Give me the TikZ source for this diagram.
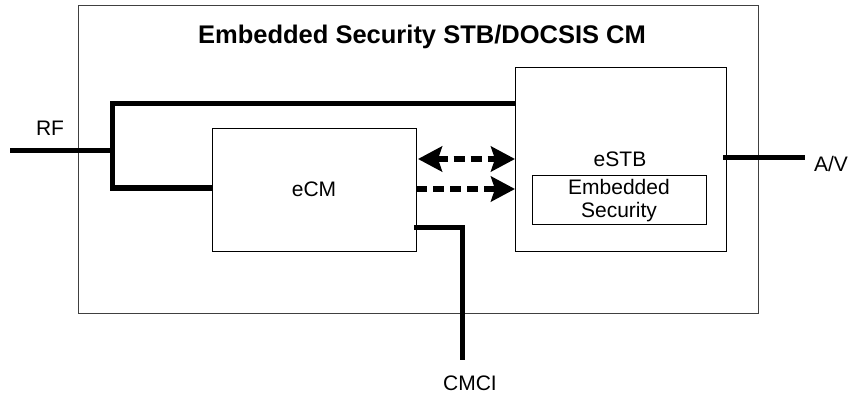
\documentclass[tikz,border=0pt]{standalone}
\usepackage{fontspec}
\setmainfont{Liberation Sans}
\usetikzlibrary{arrows.meta}
\begin{document}
\begin{tikzpicture}[x=1pt,y=-1pt,
  box/.style={draw=black, line width=0.9pt, inner sep=0pt, outer sep=0pt},
  lbl/.style={font=\fontsize{21}{25}\selectfont, inner sep=0pt, align=center},
  thickline/.style={line width=5pt, line join=miter, line cap=butt},
  tip/.style={},
  dashline/.style={line width=6pt, dash pattern=on 11pt off 6pt, line cap=butt,
    -{Stealth[length=24pt,width=25pt,inset=4pt]}},
  dashboth/.style={line width=6pt, dash pattern=on 11pt off 6pt, line cap=butt,
    {Stealth[length=24pt,width=25pt,inset=4pt]}-{Stealth[length=24pt,width=25pt,inset=4pt]}}
]
\useasboundingbox (0,0) rectangle (849,393);
\fill[white] (0,0) rectangle (849,393);
% outer box
\node[box, draw=black!75, minimum width=680pt, minimum height=308pt] (outer) at (418,159) {};
\node[font=\fontsize{25.5}{30}\selectfont\bfseries, inner sep=0pt] (title) at (422,37) {Embedded Security STB/DOCSIS CM};
% eCM
\node[box, minimum width=204pt, minimum height=123pt] (ecm) at (314,189.5) {};
\node[lbl] (ecmlbl) at (314,189) {eCM};
% eSTB
\node[box, minimum width=211pt, minimum height=184pt] (estb) at (620.5,159) {};
\node[lbl] (estblbl) at (620,159) {eSTB};
\node[box, minimum width=174pt, minimum height=49pt] (es) at (619,199.5) {};
\node[lbl] (eslbl1) at (619,187) {Embedded};
\node[lbl] (eslbl2) at (619,212) {Security};
% RF
\coordinate (rfin) at (10,151);
\coordinate (br) at (112,151);
\coordinate (bt) at (112,104);
\coordinate (bb) at (112,188);
\node[lbl] (rf) at (50,128) {RF};
\draw[thickline] (rfin) -- (br);
\draw[thickline] (estb.west |- bt) -- (bt) -- (bb) -- (ecm.west |- bb);
% dashed arrows
\coordinate (d1) at (418,159);
\coordinate (d2) at (416,189);
\draw[dashboth] (d1) -- (estb.west |- d1);
\draw[dashline] (d2) -- (estb.west |- d2);
% CMCI
\coordinate (cmc) at (462,227);
\coordinate (cmend) at (462,360);
\draw[thickline] ([xshift=-2pt]ecm.east |- cmc) -- (cmc) -- (cmend);
\node[lbl] (cmci) at (470,383) {CMCI};
% A/V
\coordinate (avs) at (723,158);
\coordinate (ave) at (805,158);
\draw[thickline] (avs) -- (ave);
\node[lbl] (av) at (831,164) {A/V};
\end{tikzpicture}
\end{document}
